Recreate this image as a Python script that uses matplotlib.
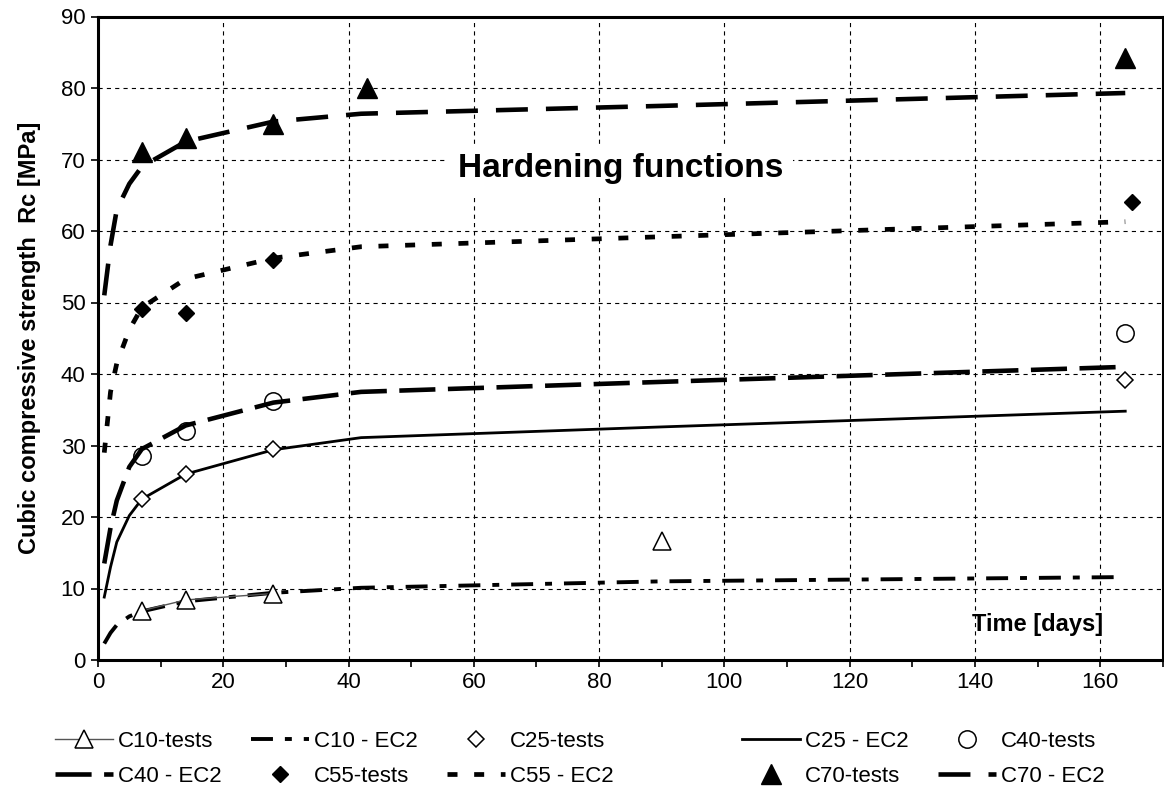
import numpy as np
import matplotlib
matplotlib.use("Agg")
import matplotlib.pyplot as plt

plt.rcParams['font.family'] = ['Liberation Sans', 'DejaVu Sans']
plt.rcParams['lines.scale_dashes'] = False

# test results (days, MPa)
c10_days = [7, 14, 28, 90]
c10_tests = [6.9, 8.4, 9.3, 16.6]
c25_days = [7, 14, 28, 164]
c25_tests = [22.5, 26.0, 29.5, 39.1]
c40_days = [7, 14, 28, 164]
c40_tests = [28.5, 32.0, 36.2, 45.8]
c55_days = [7, 14, 28, 165]
c55_tests = [49.1, 48.6, 56.0, 64.0]
c70_days = [7, 14, 28, 43, 164]
c70_tests = [71.0, 73.0, 75.0, 80.0, 84.2]

# EC2 hardening functions
ec2_days = [1, 2, 3, 5, 7, 14, 28, 42, 90, 164]
c10_ec2 = [2.3, 3.8, 4.9, 6.1, 6.8, 8.2, 9.4, 10.1, 11.0, 11.6]
c25_ec2 = [8.8, 13.0, 16.5, 20.2, 22.5, 26.0, 29.4, 31.1, 32.6, 34.8]
c40_ec2 = [13.5, 18.5, 22.3, 27.0, 29.5, 32.8, 36.0, 37.5, 38.9, 41.0]
c55_ec2 = [29.0, 37.5, 41.5, 46.2, 49.3, 53.3, 56.2, 57.8, 59.2, 61.3]
c70_ec2 = [51.0, 58.0, 63.0, 66.6, 69.0, 72.5, 75.3, 76.4, 77.5, 79.3]

fig = plt.figure(figsize=(11.64, 7.93), dpi=100)
ax = fig.add_axes([98 / 1164, 1 - 660 / 793, 1 - 98 / 1164 - 0.001, (660 - 16.5) / 793])

# curves
h_c10e, = ax.plot(ec2_days, c10_ec2, color='black', lw=2.8,
                  linestyle=(0, (15.8, 8.6, 5, 8.6)), label='C10 - EC2')
h_c25e, = ax.plot(ec2_days, c25_ec2, color='black', lw=2.0, label='C25 - EC2')
h_c40e, = ax.plot(ec2_days, c40_ec2, color='black', lw=3.3,
                  linestyle=(0, (26, 9)), label='C40 - EC2')
h_c55e, = ax.plot(ec2_days, c55_ec2, color='black', lw=3.4,
                  linestyle=(0, (7.2, 12)), label='C55 - EC2')
h_c70e, = ax.plot(ec2_days, c70_ec2, color='black', lw=3.3,
                  linestyle=(0, (23, 13)), label='C70 - EC2')

# tests
h_c10t, = ax.plot(c10_days[:3], c10_tests[:3], color='#555555', lw=1.0, marker='^',
                  ms=13.5, mfc='white', mec='black', mew=1.1, label='C10-tests', zorder=5)
ax.plot(c10_days[3:], c10_tests[3:], ls='none', marker='^', ms=13.5, mfc='white',
        mec='black', mew=1.1, zorder=5)
h_c25t, = ax.plot(c25_days, c25_tests, ls='none', marker='D', ms=8, mfc='white',
                  mec='black', mew=1.1, label='C25-tests', zorder=5)
h_c40t, = ax.plot(c40_days, c40_tests, ls='none', marker='o', ms=12.5, mfc='none',
                  mec='black', mew=1.1, label='C40-tests', zorder=5)
h_c55t, = ax.plot(c55_days, c55_tests, ls='none', marker='D', ms=8.5, mfc='black',
                  mec='black', label='C55-tests', zorder=5)
h_c70t, = ax.plot(c70_days, c70_tests, ls='none', marker='^', ms=14.5, mfc='black',
                  mec='black', label='C70-tests', zorder=5)

ax.set_xlim(0, 170)
ax.set_ylim(0, 90)
ax.set_xticks(np.arange(0, 161, 20))
ax.set_xticks(np.arange(10, 171, 20), minor=True)
ax.set_yticks(np.arange(0, 91, 10))
ax.tick_params(axis='both', which='both', direction='out', length=5, width=1.2,
               labelsize=16, pad=4)
ax.grid(True, which='major', color='black', lw=0.8, linestyle=(0, (3, 3)))
for s in ax.spines.values():
    s.set_linewidth(2.2)

# title box sits on a white patch over the grid
ax.text(109.4, 68.7, 'Hardening functions', fontsize=24, fontweight='bold',
        ha='right', va='center', zorder=4,
        bbox=dict(facecolor='white', edgecolor='none', pad=7))
ax.text(160.5, 4.9, 'Time [days]', fontsize=17, fontweight='bold',
        ha='right', va='center')
fig.text(30 / 1164, 1 - 338 / 793, 'Cubic compressive strength  Rc [MPa]',
         fontsize=17, fontweight='bold', rotation=90, ha='center', va='center')

# legend: left block with three columns, right block with two
left = [h_c10t, h_c40e, h_c10e, h_c55t, h_c25t, h_c55e]
right = [h_c25e, h_c70t, h_c40t, h_c70e]
opts = dict(frameon=False, fontsize=16, handlelength=2.6,
            handletextpad=0.25, columnspacing=1.3, labelspacing=0.63,
            borderpad=0, borderaxespad=0, loc='upper left')
leg1 = fig.legend(left, [h.get_label() for h in left], ncol=3,
                  bbox_to_anchor=(55 / 1164, 1 - 731 / 793), **opts)
leg2 = fig.legend(right, [h.get_label() for h in right], ncol=2,
                  bbox_to_anchor=(742 / 1164, 1 - 731 / 793), **opts)

fig.savefig('out.png', dpi=100)
